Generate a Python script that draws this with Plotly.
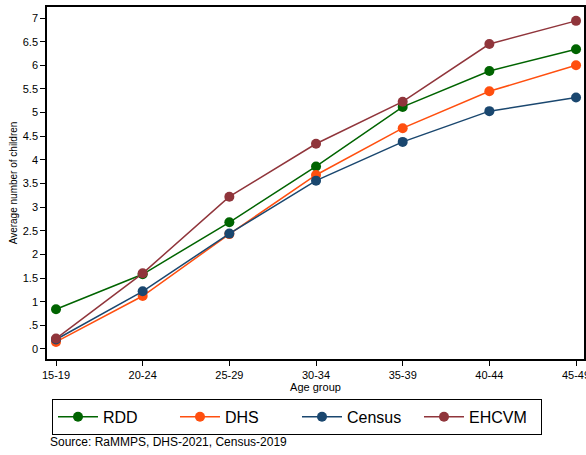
import plotly.graph_objects as go

age_groups = ["15-19", "20-24", "25-29", "30-34", "35-39", "40-44", "45-49"]
rdd = [0.84, 1.58, 2.68, 3.86, 5.12, 5.88, 6.34]
dhs = [0.15, 1.12, 2.43, 3.68, 4.67, 5.45, 6.00]
census = [0.20, 1.22, 2.44, 3.56, 4.38, 5.03, 5.32]
ehcvm = [0.22, 1.60, 3.22, 4.34, 5.23, 6.45, 6.94]

series_names = ["RDD", "DHS", "Census", "EHCVM"]
series_values = [rdd, dhs, census, ehcvm]
series_colors = ["#006400", "#ff4f0f", "#1a476f", "#90353b"]

ytick_vals = [i * 0.5 for i in range(15)]
ytick_text = ["0", ".5", "1", "1.5", "2", "2.5", "3", "3.5", "4", "4.5", "5", "5.5", "6", "6.5", "7"]

FONT = "Liberation Sans, Arial, sans-serif"

fig = go.Figure()
xs = list(range(len(age_groups)))
for name, vals, col in zip(series_names, series_values, series_colors):
    fig.add_trace(go.Scatter(
        x=xs, y=vals, name=name, mode="lines+markers",
        line=dict(color=col, width=1.5),
        marker=dict(color=col, size=10),
    ))

fig.update_layout(
    width=586, height=455,
    margin=dict(l=47, r=2, t=7, b=96, autoexpand=False),
    paper_bgcolor="white", plot_bgcolor="white",
    font=dict(family=FONT, color="black", size=11),
    showlegend=True,
    legend=dict(
        orientation="h", x=0.0093, y=-0.113, xanchor="left", yanchor="top",
        bordercolor="black", borderwidth=1, font=dict(size=16, family=FONT),
        entrywidth=67, entrywidthmode="pixels", itemwidth=40,
    ),
    xaxis=dict(
        range=[-0.104, 6.092], tickvals=xs, ticktext=age_groups,
        showline=True, linecolor="black", linewidth=1.5, mirror=True,
        ticks="outside", ticklen=5, tickcolor="black", showgrid=False, zeroline=False,
        tickfont=dict(size=11), ticklabeloverflow="allow",
        title=dict(text="Age group", font=dict(size=11), standoff=0),
    ),
    yaxis=dict(
        range=[-0.212, 7.233], tickvals=ytick_vals, ticktext=ytick_text,
        showline=True, linecolor="black", linewidth=1.5, mirror=True,
        ticks="outside", ticklen=5, tickcolor="black", showgrid=False, zeroline=False,
        tickfont=dict(size=11),
        title=dict(text="Average number of children", font=dict(size=10), standoff=3),
    ),
    annotations=[dict(
        text="Source: RaMMPS, DHS-2021, Census-2019", xref="paper", yref="paper",
        x=0.002, y=-0.236, xanchor="left", yanchor="middle", showarrow=False,
        font=dict(size=12, family=FONT),
    )],
)

fig.write_html("out.html")
